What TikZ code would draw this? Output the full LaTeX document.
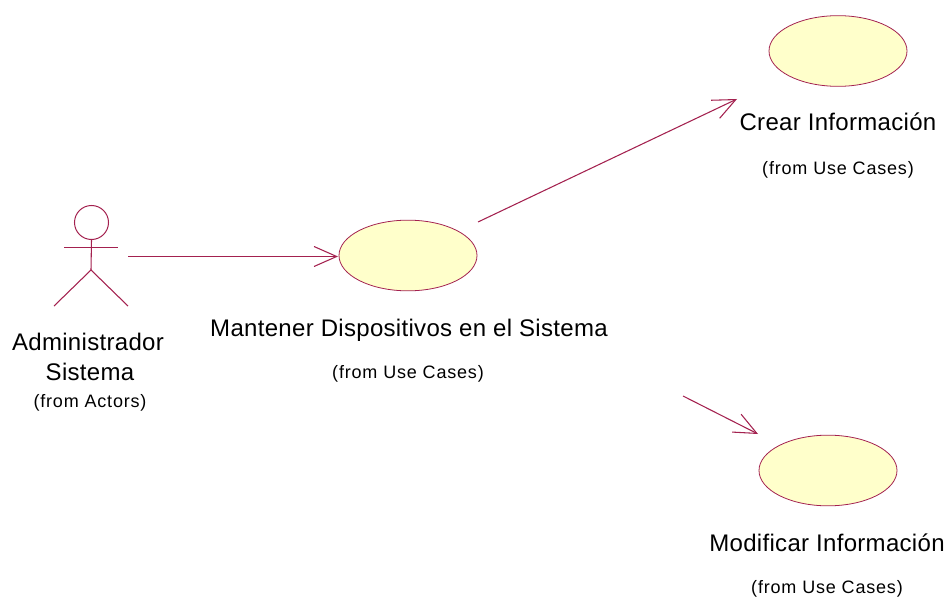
\documentclass[tikz,border=0pt]{standalone}
\usepackage{fontspec}
\setmainfont{Liberation Sans}
\newfontfamily\bigf[LetterSpace=1.3]{Liberation Sans}
\newfontfamily\smallf[LetterSpace=4.5]{Liberation Sans}
\usetikzlibrary{arrows.meta,shapes.geometric}
\definecolor{umlline}{HTML}{A3214F}
\definecolor{umlfill}{HTML}{FFFFCB}
\tikzset{
  usecase/.style={draw=umlline,fill=umlfill,ellipse,minimum width=103.5pt,minimum height=53pt,inner sep=0pt,line width=.6pt},
  actorline/.style={draw=umlline,line width=.8pt},
  link/.style={draw=umlline,line width=.8pt,-{Straight Barb[length=17pt,width=15pt,line width=.8pt]}},
  bigtext/.style={anchor=base,inner sep=0pt,font=\bigf\fontsize{18}{18}\selectfont},
  smalltext/.style={anchor=base,inner sep=0pt,font=\smallf\fontsize{13.5}{13.5}\selectfont},
}
\begin{document}
\begin{tikzpicture}[x=.75pt,y=-.75pt]
\useasboundingbox (0,0) rectangle (946,599);
% use cases
\node[usecase] (crear) at (838,51) {};
\node[usecase] (mantener) at (408,255.5) {};
\node[usecase] (modificar) at (828,470.5) {};
% actor
\node[draw=umlline,line width=.75pt,circle,minimum size=25.5pt,inner sep=0pt] (head) at (91.5,222.5) {};
\coordinate (hip) at (91,270);
\coordinate (armL) at (64,247.5);
\coordinate (armR) at (118,247.5);
\coordinate (legL) at (54,306);
\coordinate (legR) at (128,306);
\draw[actorline] (head.south) -- (hip);
\draw[actorline] (armL) -- (armR);
\draw[actorline] (legL) -- (hip) -- (legR);
% connector ends
\coordinate (a1) at (128,256.5);
\coordinate (a2) at (338,256.5);
\coordinate (b1) at (478,222);
\coordinate (b2) at (737,99);
\coordinate (c1) at (683,396);
\coordinate (c2) at (758,434);
\draw[link] (a1) -- (a2);
\draw[link] (b1) -- (b2);
\draw[link] (c1) -- (c2);
% labels
\node[bigtext] (t1) at (838,131) {Crear Información};
\node[smalltext] (t2) at (838,175) {(from Use Cases)};
\node[bigtext] (t3) at (409,336) {Mantener Dispositivos en el Sistema};
\node[smalltext] (t4) at (408,378) {(from Use Cases)};
\node[bigtext] (t5) at (827,551) {Modificar Información};
\node[smalltext] (t6) at (827,593) {(from Use Cases)};
\node[bigtext] (t7) at (88,350) {Administrador};
\node[bigtext] (t8) at (90,380) {Sistema};
\node[smalltext] (t9) at (90,407) {(from Actors)};
\end{tikzpicture}
\end{document}
